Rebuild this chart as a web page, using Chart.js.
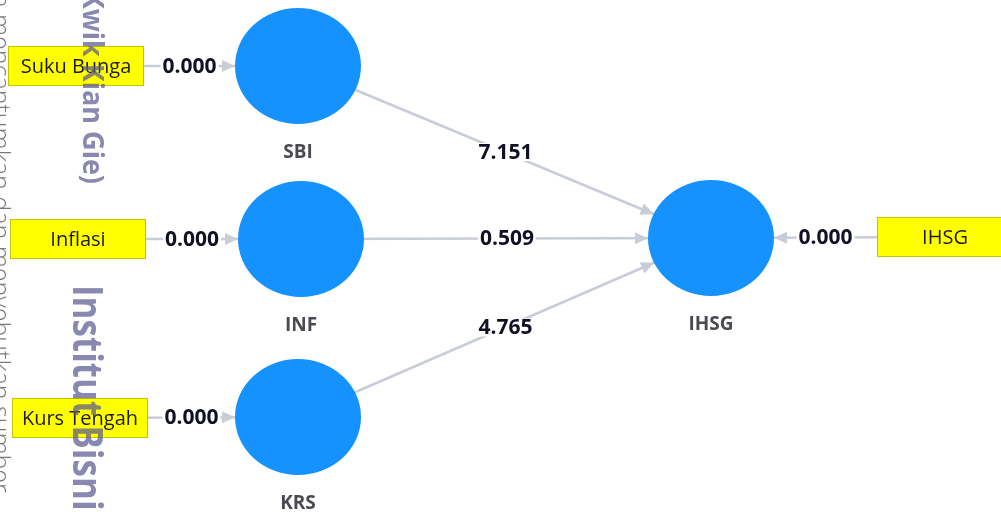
<!DOCTYPE html>
<html>
<head>
<meta charset="utf-8">
<script src="https://cdn.jsdelivr.net/npm/chart.js@4"></script>
<style>
  html, body { margin: 0; padding: 0; background: #fff; }
  canvas { display: block; }
</style>
</head>
<body>
<canvas id="pathChart" width="1001" height="512"></canvas>
<script>
// latent variables (ellipses)
const latentNames = ['SBI', 'INF', 'KRS', 'IHSG'];
const latentX = [298, 301, 298, 711];
const latentY = [66, 239, 417, 238];

// indicators (yellow boxes), one per latent variable
const indicatorNames = ['Suku Bunga', 'Inflasi', 'Kurs Tengah', 'IHSG'];
const indicatorX = [76, 78, 80, 945];
const indicatorY = [66, 239, 418, 237];
const loadingValues = ['0.000', '0.000', '0.000', '0.000'];

// inner model: source latent index -> target latent index
const pathFrom = [0, 1, 2];
const pathTo = [3, 3, 3];
const pathValues = ['7.151', '0.509', '4.765'];

const RX = 63, RY = 58;         // ellipse radii
const BOX_W = 136, BOX_H = 40;  // indicator box
const LINE_COLOR = '#c9cdd8';

const ctx = document.getElementById('pathChart').getContext('2d');

// each arrow is a 2-point line dataset from centre to centre; shapes cover the ends
const edgeSets = [];
indicatorNames.forEach((name, i) => {
  edgeSets.push({
    data: [{x: indicatorX[i], y: indicatorY[i]}, {x: latentX[i], y: latentY[i]}],
    showLine: true, borderColor: LINE_COLOR, borderWidth: 2.5, pointRadius: 0
  });
});
pathFrom.forEach((f, i) => {
  const t = pathTo[i];
  edgeSets.push({
    data: [{x: latentX[f], y: latentY[f]}, {x: latentX[t], y: latentY[t]}],
    showLine: true, borderColor: LINE_COLOR, borderWidth: 2.5, pointRadius: 0
  });
});

function arrowHead(c, sx, sy, tx, ty) {
  // tip on the ellipse boundary around (tx, ty)
  const dx = tx - sx, dy = ty - sy;
  const k = 1 / Math.sqrt((dx / RX) ** 2 + (dy / RY) ** 2);
  const px = tx - dx * k, py = ty - dy * k;
  const a = Math.atan2(dy, dx);
  const len = 13, half = 6;
  c.beginPath();
  c.moveTo(px, py);
  c.lineTo(px - len * Math.cos(a) + half * Math.sin(a), py - len * Math.sin(a) - half * Math.cos(a));
  c.lineTo(px - len * Math.cos(a) - half * Math.sin(a), py - len * Math.sin(a) + half * Math.cos(a));
  c.closePath();
  c.fillStyle = LINE_COLOR;
  c.fill();
}

function valueLabel(c, text, x, y) {
  c.font = 'bold 21px "Open Sans"';
  const w = c.measureText(text).width;
  c.fillStyle = '#fff';
  c.fillRect(x - w / 2 - 2, y - 9, w + 4, 18);
  c.fillStyle = '#111126';
  c.textAlign = 'center';
  c.textBaseline = 'middle';
  c.fillText(text, x, y + 1);
}

function rotatedText(c, text, x, y, font, color, stretch) {
  c.save();
  c.translate(x, y);
  c.rotate(Math.PI / 2);
  c.scale(1, stretch || 1);
  c.font = font;
  c.fillStyle = color;
  c.textAlign = 'left';
  c.textBaseline = 'alphabetic';
  c.fillText(text, 0, 0);
  c.restore();
}

const diagramPlugin = {
  id: 'pathDiagram',
  afterDatasetsDraw(chart) {
    const c = chart.ctx;
    const xs = chart.scales.x, ys = chart.scales.y;
    const lx = latentX.map(v => xs.getPixelForValue(v));
    const ly = latentY.map(v => ys.getPixelForValue(v));
    const bx = indicatorX.map(v => xs.getPixelForValue(v));
    const by = indicatorY.map(v => ys.getPixelForValue(v));
    c.save();

    // ellipses
    latentNames.forEach((n, i) => {
      c.beginPath();
      c.ellipse(lx[i], ly[i], RX, RY, 0, 0, Math.PI * 2);
      c.fillStyle = '#1592fd';
      c.fill();
      c.font = 'bold 19px "Open Sans"';
      c.fillStyle = '#4a4a52';
      c.textAlign = 'center';
      c.textBaseline = 'middle';
      c.fillText(n, lx[i], ly[i] + 87);
    });

    // indicator boxes + loadings
    indicatorNames.forEach((n, i) => {
      c.fillStyle = '#ffff00';
      c.fillRect(bx[i] - BOX_W / 2, by[i] - BOX_H / 2, BOX_W, BOX_H);
      c.strokeStyle = '#c4c400';
      c.lineWidth = 1;
      c.strokeRect(bx[i] - BOX_W / 2 + 0.5, by[i] - BOX_H / 2 + 0.5, BOX_W - 1, BOX_H - 1);
      c.font = '20px "Open Sans"';
      c.fillStyle = '#1c1c10';
      c.textAlign = 'center';
      c.textBaseline = 'middle';
      c.fillText(n, bx[i], by[i] + 1);

      arrowHead(c, bx[i], by[i], lx[i], ly[i]);
      const boxEdge = bx[i] < lx[i] ? bx[i] + BOX_W / 2 : bx[i] - BOX_W / 2;
      const ellEdge = bx[i] < lx[i] ? lx[i] - RX : lx[i] + RX;
      valueLabel(c, loadingValues[i], (boxEdge + ellEdge) / 2, (by[i] + ly[i]) / 2);
    });

    // structural paths
    pathFrom.forEach((f, i) => {
      const t = pathTo[i];
      arrowHead(c, lx[f], ly[f], lx[t], ly[t]);
      valueLabel(c, pathValues[i], (lx[f] + lx[t]) / 2 + 1, (ly[f] + ly[t]) / 2);
    });

    // scanned-page watermark
    c.font = '300 25px "Open Sans"';
    const lead = c.measureText('tanpa ').width;
    rotatedText(c, 'tanpa mencantumkan dan menyebutkan sumber', -8, 14 - lead, '300 25px "Open Sans"', '#7a7a7a');
    c.font = 'bold 27px "Open Sans"';
    const kw = c.measureText('(Kwik Kian Gie)').width;
    rotatedText(c, '(Kwik Kian Gie)', 83, 184 - kw, 'bold 27px "Open Sans"', 'rgba(90, 90, 145, 0.72)', 1.08);
    rotatedText(c, 'Institut Bisnis', 73, 285, 'bold 35px "Open Sans"', 'rgba(90, 90, 145, 0.72)', 1.2);

    c.restore();
  }
};

new Chart(ctx, {
  type: 'scatter',
  data: { datasets: edgeSets },
  options: {
    responsive: false,
    animation: false,
    layout: { padding: 0 },
    plugins: { legend: { display: false }, tooltip: { enabled: false } },
    scales: {
      x: { type: 'linear', min: 0, max: 1001, display: false },
      y: { type: 'linear', min: 0, max: 512, reverse: true, display: false }
    }
  },
  plugins: [diagramPlugin]
});
</script>
</body>
</html>
